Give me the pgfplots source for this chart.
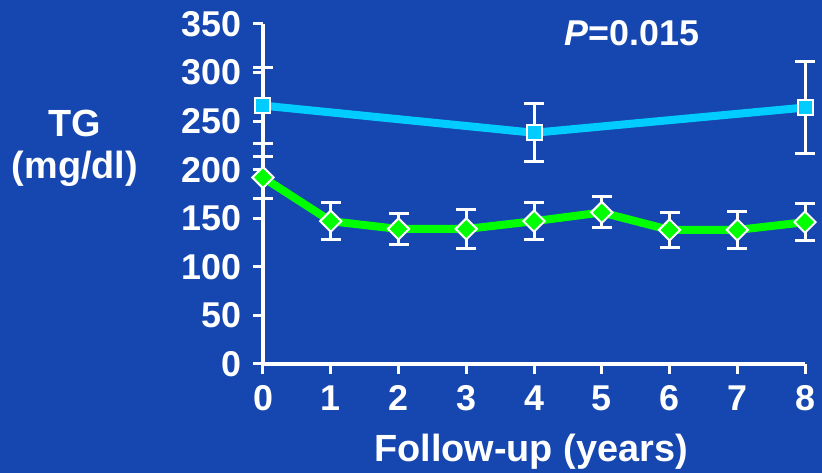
\documentclass[border=0pt]{standalone}
\usepackage{fontspec}
\setmainfont{Liberation Sans}
\usepackage{pgfplots}
\pgfplotsset{compat=1.18}
\definecolor{bg}{RGB}{22,71,177}
\definecolor{cyanl}{RGB}{0,204,255}
\definecolor{greenl}{RGB}{0,255,0}
\begin{document}
\begin{tikzpicture}[x=1bp,y=1bp]
\fill[bg] (-263,-109) rectangle (559,364);
\begin{axis}[
  at={(0,0)}, anchor=south west,
  scale only axis, width=542bp, height=340bp,
  xmin=0, xmax=8, ymin=0, ymax=350,
  clip=false,
  axis x line=bottom, axis y line=left,
  axis line style={white, line width=3.5bp, -},
  xtick={0,...,8}, ytick={0,50,...,350},
  tick style={white, line width=3bp},
  tick align=outside, major tick length=10bp,
  ticklabel style={text=white, font=\fontsize{36}{40}\selectfont\bfseries},
  xticklabel style={yshift=-8bp},
  yticklabel style={xshift=-8bp},
  /pgf/number format/assume math mode=true,
  error bars/error bar style={white, line width=3bp},
  error bars/error mark options={white, line width=3bp, mark size=10bp, rotate=90},
]
\addplot[cyanl, line width=8bp, mark=square*, mark size=7.5bp,
  mark options={fill=cyanl, draw=white, line width=2bp},
  error bars/.cd, y dir=both, y explicit]
  coordinates {(0,266) +- (0,39) (4,238) +- (0,30) (8,264) +- (0,47)};
\addplot[greenl, line width=8bp, mark=square*, mark size=7.5bp,
  mark options={fill=greenl, draw=white, line width=2bp, rotate=45},
  error bars/.cd, y dir=both, y explicit]
  coordinates {(0,192) +- (0,22) (1,147) +- (0,19) (2,139) +- (0,16) (3,139) +- (0,20)
    (4,147) +- (0,19) (5,156) +- (0,16) (6,138) +- (0,18) (7,138) +- (0,19) (8,146) +- (0,19)};
\end{axis}
\node[white, align=center, font=\fontsize{38}{42}\selectfont\bfseries] at (-188,216) {TG\\(mg/dl)};
\node[white, font=\fontsize{38}{42}\selectfont\bfseries] at (268,-88) {Follow-up (years)};
\node[white, font=\fontsize{36}{40}\selectfont\bfseries] at (369,331) {\textit{P}=0.015};
\end{tikzpicture}
\end{document}
